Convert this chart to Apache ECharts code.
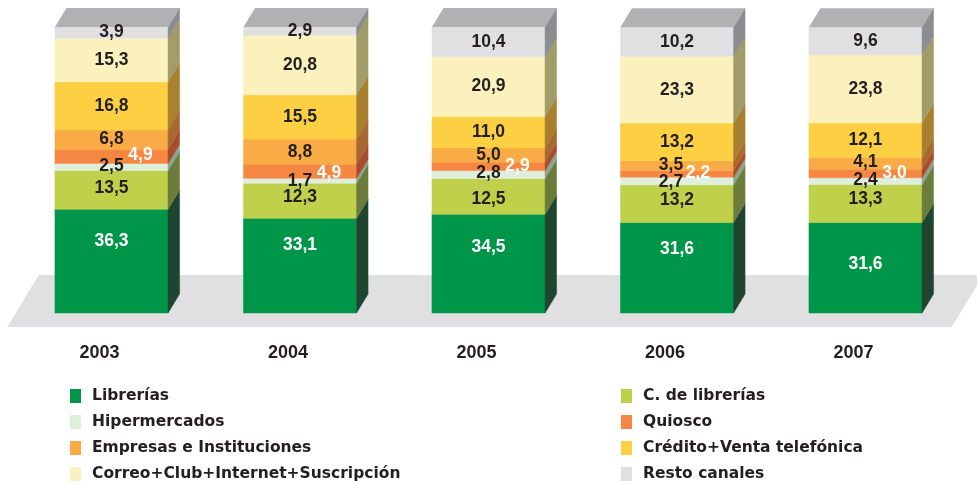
<!DOCTYPE html>
<html>
<head>
<meta charset="utf-8">
<script src="https://cdn.jsdelivr.net/npm/echarts@6/dist/echarts.min.js"></script>
<style>
  html, body { margin: 0; padding: 0; background: #ffffff; }
  #chart { width: 977px; height: 484px; }
</style>
</head>
<body>
<div id="chart"></div>
<script>
// Sales share by channel (%), stacked per year
const years = ['2003', '2004', '2005', '2006', '2007'];
const channelNames = [
  'Librerías',
  'C. de librerías',
  'Hipermercados',
  'Quiosco',
  'Empresas e Instituciones',
  'Crédito+Venta telefónica',
  'Correo+Club+Internet+Suscripción',
  'Resto canales'
];
const librerias     = [36.3, 33.1, 34.5, 31.6, 31.6];
const cadenas       = [13.5, 12.3, 12.5, 13.2, 13.3];
const hipermercados = [2.5, 1.7, 2.8, 2.7, 2.4];
const quiosco       = [4.9, 4.9, 2.9, 2.2, 3.0];
const empresas      = [6.8, 8.8, 5.0, 3.5, 4.1];
const credito       = [16.8, 15.5, 11.0, 13.2, 12.1];
const correo        = [15.3, 20.8, 20.9, 23.3, 23.8];
const resto         = [3.9, 2.9, 10.4, 10.2, 9.6];

const channelValues = [librerias, cadenas, hipermercados, quiosco, empresas, credito, correo, resto];

// Styling
const faceColors = ['#00964a', '#bfd14b', '#deefdc', '#f58742', '#f9ab45', '#fdd043', '#fbf1bc', '#e0e0e2'];
const sideColors = ['#1e4530', '#6b7c3b', '#8da38b', '#a84b2f', '#a9682f', '#a97f30', '#a29c69', '#8c8d91'];
const topColor = '#b1b1b3';
const labelColors = ['#ffffff', '#231f20', '#231f20', '#ffffff', '#231f20', '#231f20', '#231f20', '#231f20'];
const DEPTH_X = 11.5, DEPTH_Y = 19;
const BAR_RATIO = 0.6;
// label nudges in px per channel and year: [dx, dy]
const labelNudge = {
  0: [[0, -20], [0, -20], [0, -16], [0, -19], [0, -4]],
  1: [[0, -2], [0, -4], [0, 3], [0, -4], [0, -4]],
  2: [[0, -1], [0, 0], [0, -1], [-6, 1], [0, -1]],
  3: [[29, -1], [29, 2], [29, 0], [21, -1], [29, 0]],
  4: [[0, -1], [0, 0], [0, 0], [-6, -1], [0, -1]]
};

const fmt = v => v.toFixed(1).replace('.', ',');

// cumulative bases per year
const bases = channelValues.map(() => []);
years.forEach((_, yi) => {
  let acc = 0;
  channelValues.forEach((vals, ci) => {
    bases[ci][yi] = acc;
    acc += vals[yi];
  });
});

function renderSegment(params, api) {
  const yi = api.value(0);
  const base = api.value(1);
  const top = api.value(2);
  const ci = api.value(3);
  const isTop = api.value(4);
  const w = api.size([1, 0])[0] * BAR_RATIO;
  const pB = api.coord([yi, base]);
  const pT = api.coord([yi, top]);
  const x0 = pB[0] - w / 2, x1 = pB[0] + w / 2;
  const yb = pB[1], yt = pT[1];
  const children = [
    {
      type: 'rect',
      shape: { x: x0, y: yt, width: w, height: yb - yt },
      style: { fill: faceColors[ci], stroke: faceColors[ci], lineWidth: 0.5 }
    },
    {
      type: 'polygon',
      shape: { points: [[x1, yb], [x1 + DEPTH_X, yb - DEPTH_Y], [x1 + DEPTH_X, yt - DEPTH_Y], [x1, yt]] },
      style: { fill: sideColors[ci], stroke: sideColors[ci], lineWidth: 0.5 }
    }
  ];
  if (isTop) {
    children.push({
      type: 'polygon',
      shape: { points: [[x0, yt], [x0 + DEPTH_X, yt - DEPTH_Y], [x1 + DEPTH_X, yt - DEPTH_Y], [x1, yt]] },
      style: { fill: topColor }
    });
  }
  return { type: 'group', children };
}

function renderLabel(params, api) {
  const yi = api.value(0);
  const base = api.value(1);
  const top = api.value(2);
  const ci = api.value(3);
  const val = api.value(5);
  const pM = api.coord([yi, (base + top) / 2]);
  const nudge = (labelNudge[ci] && labelNudge[ci][yi]) || [0, 0];
  return {
    type: 'text',
    x: pM[0] + nudge[0],
    y: pM[1] + nudge[1],
    style: {
      text: fmt(val),
      fill: labelColors[ci],
      font: 'bold 17.5px "Liberation Sans", Arial, sans-serif',
      align: 'center',
      verticalAlign: 'middle'
    }
  };
}

function renderFloor(params, api) {
  const cs = params.coordSys;
  const yBase = cs.y + cs.height;
  const yTop = yBase - 38, yBot = yBase + 14;
  const xl = cs.x - 10, xr = cs.x + cs.width - 8;
  const slant = (yBot - yTop) * DEPTH_X / DEPTH_Y;
  return {
    type: 'polygon',
    shape: { points: [[xl + slant, yTop], [xr + slant, yTop], [xr, yBot], [xl, yBot]] },
    style: { fill: '#e0e0e2' }
  };
}

const segmentSeries = channelNames.map((name, ci) => ({
  name,
  type: 'custom',
  renderItem: renderSegment,
  itemStyle: { color: faceColors[ci] },
  encode: { x: 0, y: 2 },
  z: 3,
  data: years.map((_, yi) => [yi, bases[ci][yi], bases[ci][yi] + channelValues[ci][yi], ci, ci === channelNames.length - 1 ? 1 : 0, channelValues[ci][yi]])
}));

const labelData = [];
channelNames.forEach((_, ci) => {
  years.forEach((_, yi) => {
    labelData.push([yi, bases[ci][yi], bases[ci][yi] + channelValues[ci][yi], ci, 0, channelValues[ci][yi]]);
  });
});

const legendText = {
  fontSize: 15.5,
  fontWeight: 'bold',
  fontFamily: '"DejaVu Sans", sans-serif',
  color: '#231f20',
  lineHeight: 14,
  padding: [0, 0, 0, 6]
};

const legendBase = {
  orient: 'vertical',
  top: 388,
  height: 120,
  padding: 0,
  icon: 'rect',
  itemWidth: 11,
  itemHeight: 14,
  itemGap: 10,
  textStyle: legendText
};

const chart = echarts.init(document.getElementById('chart'), null, { renderer: 'canvas' });
chart.setOption({
  animation: false,
  backgroundColor: '#ffffff',
  grid: { left: 17.25, right: 17.25, top: 27, bottom: 171 },
  xAxis: {
    type: 'category',
    data: years,
    axisLine: { show: false },
    axisTick: { show: false },
    splitLine: { show: false },
    axisLabel: {
      margin: 31,
      color: '#231f20',
      fontSize: 18,
      fontWeight: 'bold',
      fontFamily: '"Liberation Sans", Arial, sans-serif',
      padding: [0, 24, 0, 0]
    }
  },
  yAxis: { type: 'value', min: 0, max: 100, show: false },
  legend: [
    Object.assign({}, legendBase, {
      left: 70,
      data: [channelNames[0], channelNames[2], channelNames[4], channelNames[6]]
    }),
    Object.assign({}, legendBase, {
      left: 621,
      data: [channelNames[1], channelNames[3], channelNames[5], channelNames[7]]
    })
  ],
  series: [
    {
      name: 'suelo',
      type: 'custom',
      renderItem: renderFloor,
      silent: true,
      z: 1,
      data: [[0, 0]],
      encode: { x: 0, y: 1 }
    },
    ...segmentSeries,
    {
      name: 'valores',
      type: 'custom',
      renderItem: renderLabel,
      silent: true,
      z: 10,
      encode: { x: 0, y: 2 },
      data: labelData
    }
  ]
});
</script>
</body>
</html>
